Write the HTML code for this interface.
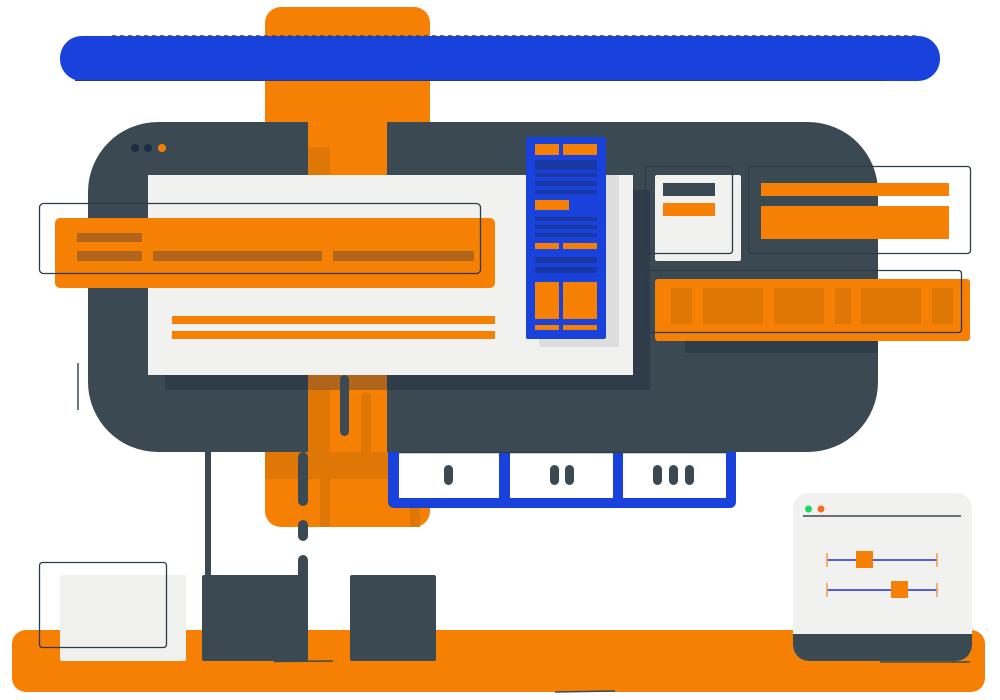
<!DOCTYPE html>
<html><head><meta charset="utf-8"><style>html,body{margin:0;padding:0;background:#fff;width:1000px;height:700px;overflow:hidden}</style></head>
<body>
<svg width="1000" height="700" viewBox="0 0 1000 700" xmlns="http://www.w3.org/2000/svg">
<rect x="265" y="7" width="165" height="520" rx="16" fill="#f58003"/>
<rect x="60" y="36" width="880" height="45" rx="22" fill="#1941dc"/>
<line x1="112" y1="36" x2="918" y2="36" stroke="#3b4a52" stroke-width="1.5" stroke-dasharray="4 4"/>
<line x1="75" y1="80.5" x2="885" y2="80.5" stroke="#263a7a" stroke-width="1"/>
<path d="M158 122 H308 V452 H158 A70 70 0 0 1 88 382 V192 A70 70 0 0 1 158 122 Z" fill="#3b4a52"/>
<path d="M387 122 H808 A70 70 0 0 1 878 192 V382 A70 70 0 0 1 808 452 H387 Z" fill="#3b4a52"/>
<rect x="308" y="147" width="22" height="28" fill="#de7706"/>
<rect x="165" y="190" width="485" height="200" fill="#2f3d4a"/>
<rect x="308" y="375" width="79" height="15" fill="#b0651a"/>
<rect x="308" y="390" width="22" height="62" fill="#de7706"/>
<rect x="361" y="392" width="10" height="69" rx="5" fill="#de7706"/>
<rect x="148" y="175" width="485" height="200" fill="#f1f1ef"/>
<rect x="340" y="375" width="9" height="61" rx="4.5" fill="#3b4a52"/>
<rect x="172" y="316" width="323" height="8" fill="#f58003"/>
<rect x="172" y="331" width="323" height="8" fill="#f58003"/>
<circle cx="135" cy="148" r="4" fill="#1e2b45"/>
<circle cx="148" cy="148" r="4" fill="#1e2b45"/>
<circle cx="162" cy="148" r="4" fill="#f58003"/>
<rect x="55" y="218" width="440" height="70" rx="5" fill="#f58003"/>
<rect x="77" y="233" width="65" height="9" fill="#b0651a"/>
<rect x="77" y="251" width="65" height="10" fill="#b0651a"/>
<rect x="153" y="251" width="169" height="10" fill="#b0651a"/>
<rect x="333" y="251" width="141" height="10" fill="#b0651a"/>
<rect x="39.5" y="203.5" width="441" height="70" rx="4" fill="none" stroke="#2c3a4b" stroke-width="1.3"/>
<rect x="539" y="175" width="80" height="172" rx="2" fill="#dcdddc"/>
<rect x="526" y="137" width="80" height="202" rx="2" fill="#1941dc"/>
<g fill="#f58003">
<rect x="535" y="144" width="24" height="11"/><rect x="563" y="144" width="34" height="11"/>
<rect x="535" y="200" width="34" height="10"/>
<rect x="535" y="243" width="24" height="6"/><rect x="563" y="243" width="34" height="6"/>
<rect x="535" y="282" width="24" height="37"/><rect x="563" y="282" width="34" height="37"/>
<rect x="535" y="325" width="24" height="5"/><rect x="563" y="325" width="34" height="5"/>
</g>
<g fill="#1a37a6">
<rect x="535" y="160" width="62" height="10"/><rect x="535" y="173" width="62" height="4"/>
<rect x="535" y="181" width="62" height="5"/><rect x="535" y="190" width="62" height="4"/>
<rect x="535" y="217" width="62" height="4"/><rect x="535" y="225" width="62" height="4"/>
<rect x="535" y="233" width="62" height="4"/>
<rect x="535" y="257" width="62" height="6"/><rect x="535" y="267" width="62" height="6"/>
</g>
<rect x="655" y="175" width="86" height="86" rx="2" fill="#f1f1ef"/>
<rect x="663" y="183" width="52" height="13" fill="#3b4a52"/>
<rect x="663" y="203" width="52" height="13" fill="#f58003"/>
<rect x="645.5" y="166.5" width="87" height="87" rx="3" fill="none" stroke="#2c3a4b" stroke-width="1.3"/>
<rect x="761" y="183" width="188" height="13" fill="#f58003"/>
<rect x="761" y="206" width="188" height="33" fill="#f58003"/>
<rect x="748.5" y="166.5" width="222" height="87" rx="3" fill="none" stroke="#2c3a4b" stroke-width="1.3"/>
<rect x="685" y="340" width="193" height="13" fill="#2f3d4a"/>
<rect x="655" y="279" width="315" height="62" rx="3" fill="#f58003"/>
<g fill="#de7706">
<rect x="671" y="288" width="21" height="36"/><rect x="703" y="288" width="60" height="36"/>
<rect x="774" y="288" width="50" height="36"/><rect x="835" y="288" width="16" height="36"/>
<rect x="861" y="288" width="60" height="36"/><rect x="932" y="288" width="21" height="36"/>
</g>
<rect x="646.5" y="270.5" width="315" height="62" rx="3" fill="none" stroke="#2c3a4b" stroke-width="1.3"/>
<rect x="265" y="452" width="165" height="27" fill="#de7706"/>
<rect x="320" y="452" width="10" height="75" fill="#de7706"/>
<rect x="410" y="479" width="10" height="48" fill="#de7706"/>
<path d="M388 452 H736 V502 A6 6 0 0 1 730 508 H394 A6 6 0 0 1 388 502 Z" fill="#1941dc"/>
<rect x="399" y="452" width="100" height="46" fill="#fff"/>
<rect x="510" y="452" width="103" height="46" fill="#fff"/>
<rect x="623" y="452" width="103" height="46" fill="#fff"/>
<line x1="399" y1="452.5" x2="726" y2="452.5" stroke="#2f3d4a" stroke-width="1.5"/>
<g fill="#3b4a52">
<rect x="444" y="465" width="9" height="20" rx="4.5"/>
<rect x="550" y="465" width="9" height="20" rx="4.5"/><rect x="565" y="465" width="9" height="20" rx="4.5"/>
<rect x="653" y="465" width="9" height="20" rx="4.5"/><rect x="669" y="465" width="9" height="20" rx="4.5"/><rect x="685" y="465" width="9" height="20" rx="4.5"/>
</g>
<rect x="205" y="452" width="6" height="125" fill="#3b4a52"/>
<rect x="298" y="452" width="10" height="54" rx="5" fill="#3b4a52"/>
<rect x="298" y="520" width="10" height="21" rx="5" fill="#3b4a52"/>
<rect x="298" y="555" width="10" height="30" rx="5" fill="#3b4a52"/>
<rect x="12" y="630" width="973" height="62" rx="14" fill="#f58003"/>
<line x1="555" y1="692" x2="615" y2="691" stroke="#3b4a52" stroke-width="1.5"/>
<rect x="60" y="575" width="126" height="86" rx="2" fill="#f0f0ee"/>
<rect x="39.5" y="562.5" width="127" height="85" rx="3" fill="none" stroke="#2c3a4b" stroke-width="1.3"/>
<rect x="202" y="575" width="106" height="86" rx="2" fill="#3b4a52"/>
<rect x="350" y="575" width="86" height="86" rx="2" fill="#3b4a52"/>
<line x1="274" y1="661.5" x2="333" y2="661" stroke="#3b4a52" stroke-width="1.5"/>
<rect x="793" y="493" width="179" height="168" rx="16" fill="#f1f1f0"/>
<path d="M793 634 H972 V645 A16 16 0 0 1 956 661 H809 A16 16 0 0 1 793 645 Z" fill="#3b4a52"/>
<line x1="880" y1="662" x2="970" y2="662" stroke="#3b4a52" stroke-width="1.5"/>
<circle cx="808.5" cy="509" r="3.5" fill="#1ed760"/>
<circle cx="821" cy="509" r="3.5" fill="#f76b1c"/>
<line x1="803" y1="516" x2="961" y2="516" stroke="#3b4a52" stroke-width="1.5"/>
<line x1="827" y1="560" x2="937" y2="560" stroke="#1c2ee0" stroke-width="1.5"/>
<line x1="827" y1="590" x2="937" y2="590" stroke="#1c2ee0" stroke-width="1.5"/>
<g stroke="#f59a4a" stroke-width="1.5">
<line x1="827" y1="553" x2="827" y2="567"/><line x1="937" y1="553" x2="937" y2="567"/>
<line x1="827" y1="583" x2="827" y2="597"/><line x1="937" y1="583" x2="937" y2="597"/>
</g>
<rect x="856" y="551" width="17" height="17" fill="#f58003"/>
<rect x="891" y="581" width="17" height="17" fill="#f58003"/>
<line x1="78" y1="363" x2="78" y2="410" stroke="#3b4a52" stroke-width="1.5"/>
</svg>
</body></html>
